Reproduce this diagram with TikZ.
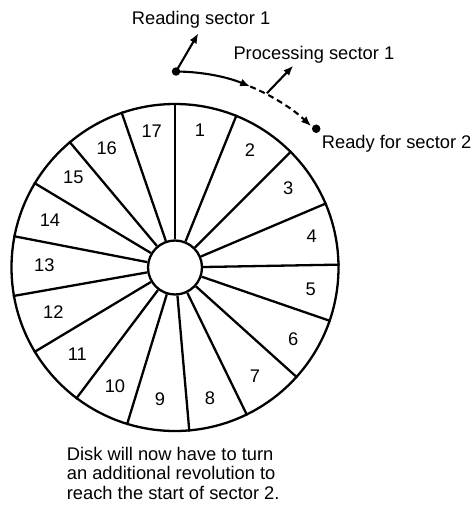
\documentclass[tikz,border=0pt]{standalone}
\usepackage{fontspec}
\setmainfont{Liberation Sans}
\usetikzlibrary{arrows.meta,calc}
\begin{document}
\begin{tikzpicture}[x=1pt,y=1pt,
  ln/.style={line width=2.3pt},
  arr/.style={line width=2.1pt,-{Latex[length=10pt,width=8pt]}},
  dotnode/.style={circle,fill=black,inner sep=0pt,minimum size=8.5pt},
  lbl/.style={inner sep=0pt,font=\fontsize{18.3}{19.3}\selectfont},
  num/.style={inner sep=0pt,font=\fontsize{18.3}{19}\selectfont}]
\useasboundingbox (0,0) rectangle (473,-508);
\coordinate (C) at (175,-267.5);
\node[ln,draw,circle,minimum size=327pt,inner sep=0pt] (disk) at (C) {};
\node[ln,draw,circle,minimum size=54pt,inner sep=0pt,fill=white] (hub) at (C) {};
\foreach \a in {90,68.5,45.6,23.4,1.6,-19.5,-42.3,-64.3,-85.9,-107.2,-127.3,-149.2,-170.7,169.6,149.5,130.4,109.1}
  \draw[ln] (hub.\a) -- (disk.\a);
% sector numbers
\node[num] (s1) at (200,-130) {1};
\node[num] (s2) at (250,-150) {2};
\node[num] (s3) at (288.3,-188.3) {3};
\node[num] (s4) at (311.7,-236) {4};
\node[num] (s5) at (310.7,-289.3) {5};
\node[num] (s6) at (293.3,-339) {6};
\node[num] (s7) at (255,-376) {7};
\node[num] (s8) at (210,-398.3) {8};
\node[num] (s9) at (160,-399.3) {9};
\node[num] (s10) at (115,-386) {10};
\node[num] (s11) at (77.3,-354.3) {11};
\node[num] (s12) at (53.3,-312.3) {12};
\node[num] (s13) at (44.3,-265) {13};
\node[num] (s14) at (50,-220.7) {14};
\node[num] (s15) at (73.3,-177.3) {15};
\node[num] (s16) at (106.7,-148) {16};
\node[num] (s17) at (151.7,-131.7) {17};
% dots and arcs
\node[dotnode] (rd) at ($(C)+(89.7:196)$) {};
\node[dotnode] (ry) at ($(C)+(44.5:198)$) {};
\draw[arr] (rd.center) arc[start angle=89.7,end angle=67.5,radius=196.5] coordinate (m);
\draw[arr,dash pattern=on 6pt off 4pt] (m) arc[start angle=67.5,end angle=46.3,radius=197.5];
\coordinate (pb) at ($(C)+(62.2:197)$);
\coordinate (rt) at (198.3,-33.3);
\coordinate (ptip) at (293.3,-65.7);
\draw[arr] (rd.center) -- (rt);
\draw[arr] (pb) -- (ptip);
% labels
\node[lbl,anchor=base west] (lr) at (131.7,-25) {Reading sector 1};
\node[lbl,anchor=base west] (lp) at (233.3,-60) {Processing sector 1};
\node[lbl,anchor=base west] (ly) at (321.7,-148.3) {Ready for sector 2};
\node[lbl,anchor=base west,align=left] (ld) at (66.7,-499)
  {Disk will now have to turn\\an additional revolution to\\reach the start of sector 2.};
\end{tikzpicture}
\end{document}
